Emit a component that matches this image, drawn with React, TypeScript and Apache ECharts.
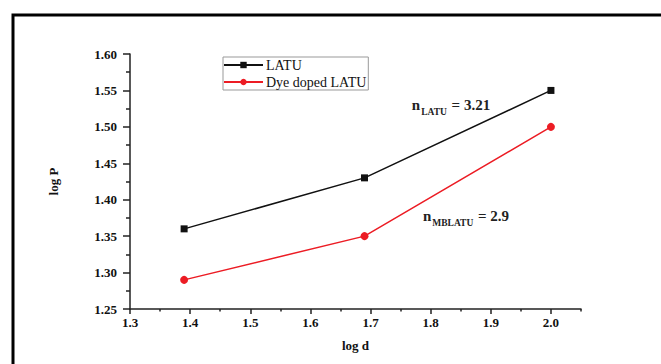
import React, { useEffect, useRef } from "react";
import * as echarts from "echarts";

const logD = [1.39, 1.69, 2.0];
const latu = [1.36, 1.43, 1.55];
const dyeLatu = [1.29, 1.35, 1.5];
const xMajorTicks = [1.3, 1.4, 1.5, 1.6, 1.7, 1.8, 1.9, 2.0];
const xMinorTicks = [1.35, 1.45, 1.55, 1.65, 1.75, 1.85, 1.95, 2.05];
const seriesNames = ["LATU", "Dye doped LATU"];

const FONT = "'Liberation Serif', 'Times New Roman', serif";

export default function App() {
  const ref = useRef<HTMLDivElement>(null);
  useEffect(() => {
    if (!ref.current) return;
    const chart = echarts.init(ref.current, null, { renderer: "svg" });
    const axisLabelStyle = { fontFamily: FONT, fontWeight: "bold", fontSize: 13, color: "#111" };
    const rich = {
      n: { fontFamily: FONT, fontWeight: "bold", fontSize: 15, fill: "#222", lineHeight: 18, verticalAlign: "top" },
      s: { fontFamily: FONT, fontWeight: "bold", fontSize: 9.5, fill: "#222", lineHeight: 18, padding: [10, 1, 0, 1], verticalAlign: "top" },
    };
    chart.setOption({
      animation: false,
      backgroundColor: "#fff",
      grid: { left: 130, top: 54, right: 80, bottom: 55 },
      legend: {
        orient: "vertical",
        left: 223,
        top: 57,
        itemWidth: 39,
        itemHeight: 8,
        itemGap: 3,
        padding: [1, 2, 1, 0],
        borderColor: "#999",
        borderWidth: 1,
        textStyle: { fontFamily: FONT, fontSize: 14, color: "#111", lineHeight: 14, padding: [0, 0, 0, -2] },
        data: seriesNames,
      },
      xAxis: [
        {
          type: "value",
          min: 1.3,
          max: 2.05,
          interval: 0.1,
          name: "log d",
          nameLocation: "middle",
          nameGap: 30,
          nameTextStyle: { fontFamily: FONT, fontWeight: "bold", fontSize: 13, color: "#111" },
          axisLine: { show: true, lineStyle: { color: "#222", width: 1.5 } },
          axisTick: { show: true, length: 5, customValues: xMajorTicks, lineStyle: { color: "#222", width: 1.5 } },
          axisLabel: { ...axisLabelStyle, margin: 7, customValues: xMajorTicks, formatter: (v: number) => v.toFixed(1) },
          splitLine: { show: false },
        },
        {
          type: "value",
          min: 1.3,
          max: 2.05,
          position: "bottom",
          axisLine: { show: false },
          axisTick: { show: true, length: 2.5, customValues: xMinorTicks, lineStyle: { color: "#222", width: 1.5 } },
          axisLabel: { show: false },
          splitLine: { show: false },
        },
      ],
      yAxis: {
        type: "value",
        min: 1.25,
        max: 1.6,
        interval: 0.05,
        name: "log P",
        nameLocation: "middle",
        nameGap: 70,
        nameRotate: 90,
        nameTextStyle: { fontFamily: FONT, fontWeight: "bold", fontSize: 13, color: "#111" },
        axisLine: { show: true, lineStyle: { color: "#222", width: 1.5 } },
        axisTick: { show: true, length: 7, lineStyle: { color: "#222", width: 1.5 } },
        minorTick: { show: true, splitNumber: 2, length: 4, lineStyle: { color: "#222", width: 1.5 } },
        axisLabel: { ...axisLabelStyle, margin: 13, formatter: (v: number) => v.toFixed(2) },
        splitLine: { show: false },
      },
      series: [
        {
          name: seriesNames[0],
          type: "line",
          data: logD.map((x, i) => [x, latu[i]]),
          symbol: "rect",
          symbolSize: 7,
          lineStyle: { color: "#111", width: 1.5 },
          itemStyle: { color: "#111" },
        },
        {
          name: seriesNames[1],
          type: "line",
          data: logD.map((x, i) => [x, dyeLatu[i]]),
          symbol: "circle",
          symbolSize: 8,
          lineStyle: { color: "#ec1c24", width: 1.5 },
          itemStyle: { color: "#ec1c24" },
        },
      ],
      graphic: [
        {
          type: "rect",
          left: 10.5,
          top: 12.5,
          shape: { x: 0, y: 0, width: 800, height: 500 },
          style: { fill: "none", stroke: "#000", lineWidth: 3 },
          silent: true,
        },
        {
          type: "text",
          x: 451,
          y: 106,
          style: {
            text: "{n|n}{s|LATU}{n| = 3.21}",
            align: "center",
            verticalAlign: "middle",
            rich,
          },
        },
        {
          type: "text",
          x: 466,
          y: 217,
          style: {
            text: "{n|n}{s|MBLATU}{n| = 2.9}",
            align: "center",
            verticalAlign: "middle",
            rich,
          },
        },
      ],
    });
    return () => chart.dispose();
  }, []);
  return (
    <div
      ref={ref}
      style={{ position: "fixed", left: 0, top: 0, width: 661, height: 364, background: "#fff" }}
    />
  );
}
